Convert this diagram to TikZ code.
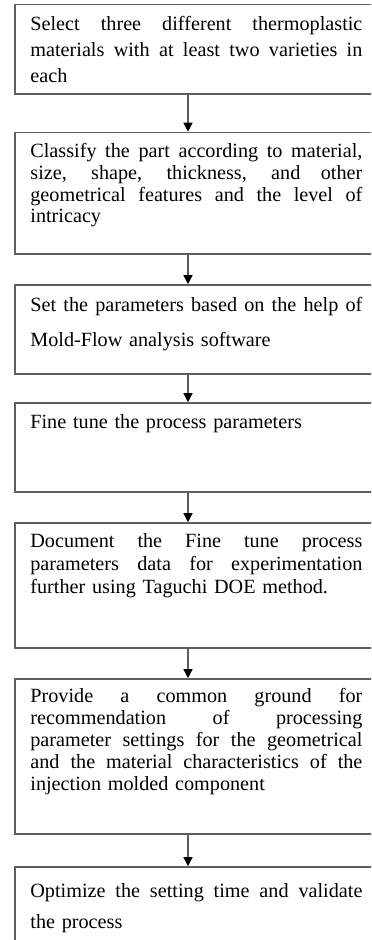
\documentclass[tikz,border=0pt]{standalone}
\usepackage{fontspec}
\setmainfont{Liberation Serif}
\usetikzlibrary{arrows.meta,fit}

% one drawing unit = one pixel of a 371 x 940 sheet, y counted downwards
\tikzset{
  x=0.5pt, y=-0.5pt,
  stepbox/.style={draw={rgb,255:red,95;green,95;blue,95}, line width=0.8pt,
    inner sep=0pt, fill=none},
  steptext/.style={anchor=base west, inner sep=0pt, text width=166pt,
    font=\fontsize{10.1pt}{#1}\selectfont},
  flow/.style={draw={rgb,255:red,90;green,90;blue,90}, line width=0.7pt,
    -{Triangle[length=4.5pt,width=4.5pt,color=black]}},
}
% a line of a justified paragraph, spread to the full text width
\newcommand{\jline}[1]{\leavevmode\hbox to 166pt{\spaceskip=0.25em plus 1fil minus 0.08em\relax #1}}

\begin{document}
\begin{tikzpicture}
  \useasboundingbox (0,0) rectangle (371,940);
  \clip (0,0) rectangle (371,940);

  % column of the connecting arrows
  \coordinate (ax) at (188,0);

  % process boxes (they run past the right and bottom edges of the sheet)
  \node[stepbox, fit={(15,4.7) (390,94)}]   (b1) {};
  \node[stepbox, fit={(15,132.5) (390,254)}] (b2) {};
  \node[stepbox, fit={(15,285) (390,374)}]  (b3) {};
  \node[stepbox, fit={(15,403) (390,492)}]  (b4) {};
  \node[stepbox, fit={(15,523) (390,648)}]  (b5) {};
  \node[stepbox, fit={(15,679) (390,834)}]  (b6) {};
  \node[stepbox, fit={(15,867) (390,990)}]  (b7) {};

  % texts of the steps
  \node[steptext=13pt] (t1) at (30,31) {%
    \jline{Select three different thermoplastic}\\
    \jline{materials with at least two varieties in}\\
    each};
  \node[steptext=10.9pt] (t2) at (30,157.5) {%
    \jline{Classify the part according to material,}\\
    \jline{size, shape, thickness, and other}\\
    \jline{geometrical features and the level of}\\
    intricacy};
  \node[steptext=17.5pt] (t3) at (30,312) {%
    \jline{Set the parameters based on the help of}\\
    Mold-Flow analysis software};
  \node[steptext=11pt] (t4) at (30,428) {%
    Fine tune the process parameters};
  \node[steptext=11.5pt] (t5) at (30,547) {%
    \jline{Document the Fine tune process}\\
    \jline{parameters data for experimentation}\\
    further using Taguchi DOE method.};
  \node[steptext=11pt] (t6) at (30,702) {%
    \jline{Provide a common ground for}\\
    \jline{recommendation of processing}\\
    \jline{parameter settings for the geometrical}\\
    \jline{and the material characteristics of the}\\
    injection molded component};
  \node[steptext=15.5pt] (t7) at (30,897) {%
    \jline{Optimize the setting time and validate}\\
    the process};

  % connectors
  \draw[flow] (b1.south -| ax) -- (b2.north -| ax);
  \draw[flow] (b2.south -| ax) -- (b3.north -| ax);
  \draw[flow] (b3.south -| ax) -- (b4.north -| ax);
  \draw[flow] (b4.south -| ax) -- (b5.north -| ax);
  \draw[flow] (b5.south -| ax) -- (b6.north -| ax);
  \draw[flow] (b6.south -| ax) -- (b7.north -| ax);
\end{tikzpicture}
\end{document}
